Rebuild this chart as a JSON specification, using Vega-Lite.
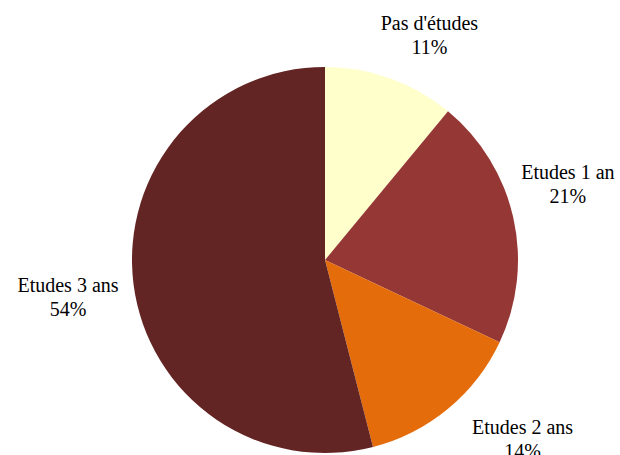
{
  "$schema": "https://vega.github.io/schema/vega-lite/v6.json",
  "width": 620,
  "height": 455,
  "autosize": {"type": "none"},
  "padding": {"left": 15, "top": 32.5, "right": 0, "bottom": 0},
  "background": "white",
  "config": {"view": {"stroke": null}},
  "data": {
    "values": [
      {"cat": "Pas d'études", "pct": 11, "ord": 1, "label": "Pas d'études\n11%"},
      {"cat": "Etudes 1 an", "pct": 21, "ord": 2, "label": "Etudes 1 an\n21%"},
      {"cat": "Etudes 2 ans", "pct": 14, "ord": 3, "label": "Etudes 2 ans\n14%"},
      {"cat": "Etudes 3 ans", "pct": 54, "ord": 4, "label": "Etudes 3 ans\n54%"}
    ]
  },
  "transform": [
    {"stack": "pct", "groupby": [], "sort": [{"field": "ord"}], "as": ["s0", "s1"]},
    {"calculate": "(datum.s0 + datum.s1) / 2", "as": "mid"}
  ],
  "layer": [
    {
      "mark": {"type": "arc", "outerRadius": 193},
      "encoding": {
        "theta": {"field": "s0", "type": "quantitative", "scale": {"domain": [0, 100]}},
        "theta2": {"field": "s1"},
        "color": {
          "field": "cat",
          "type": "nominal",
          "scale": {
            "domain": ["Pas d'études", "Etudes 1 an", "Etudes 2 ans", "Etudes 3 ans"],
            "range": ["#FFFFCC", "#953735", "#E46C0A", "#632523"]
          },
          "legend": null
        }
      }
    },
    {
      "transform": [{"filter": "datum.cat === \"Pas d'études\""}],
      "mark": {"type": "text", "radius": 255, "dx": 18, "dy": 4, "font": "Liberation Serif", "fontSize": 20, "lineBreak": "\n", "lineHeight": 24, "baseline": "middle", "align": "center", "color": "black"},
      "encoding": {"theta": {"field": "mid", "type": "quantitative", "scale": {"domain": [0, 100]}}, "text": {"field": "label", "type": "nominal"}}
    },
    {
      "transform": [{"filter": "datum.cat === 'Etudes 1 an'"}],
      "mark": {"type": "text", "radius": 255, "dx": -6, "dy": -31, "font": "Liberation Serif", "fontSize": 20, "lineBreak": "\n", "lineHeight": 24, "baseline": "middle", "align": "center", "color": "black"},
      "encoding": {"theta": {"field": "mid", "type": "quantitative", "scale": {"domain": [0, 100]}}, "text": {"field": "label", "type": "nominal"}}
    },
    {
      "transform": [{"filter": "datum.cat === 'Etudes 2 ans'"}],
      "mark": {"type": "text", "radius": 255, "dx": 35, "dy": -28, "font": "Liberation Serif", "fontSize": 20, "lineBreak": "\n", "lineHeight": 24, "baseline": "middle", "align": "center", "color": "black"},
      "encoding": {"theta": {"field": "mid", "type": "quantitative", "scale": {"domain": [0, 100]}}, "text": {"field": "label", "type": "nominal"}}
    },
    {
      "transform": [{"filter": "datum.cat === 'Etudes 3 ans'"}],
      "mark": {"type": "text", "radius": 255, "dx": -4, "dy": -6, "font": "Liberation Serif", "fontSize": 20, "lineBreak": "\n", "lineHeight": 24, "baseline": "middle", "align": "center", "color": "black"},
      "encoding": {"theta": {"field": "mid", "type": "quantitative", "scale": {"domain": [0, 100]}}, "text": {"field": "label", "type": "nominal"}}
    }
  ]
}
